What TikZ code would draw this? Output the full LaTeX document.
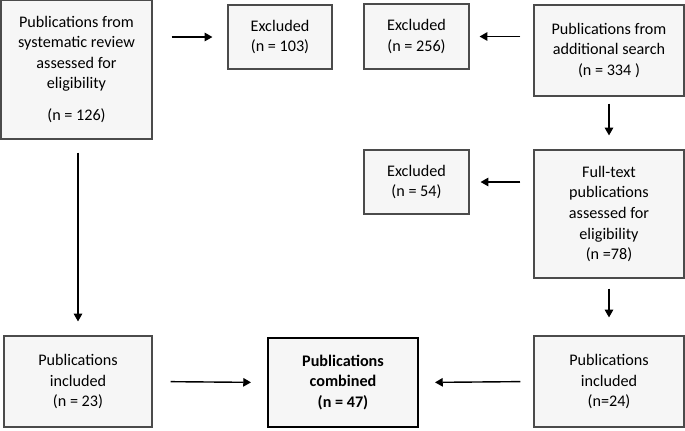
\documentclass[tikz,border=0pt]{standalone}
\usepackage{fontspec}
\setmainfont{Carlito}
\usetikzlibrary{arrows.meta}
\definecolor{boxfill}{RGB}{246,246,246}
\definecolor{boxline}{RGB}{75,75,75}

\begin{document}
\begin{tikzpicture}[x=0.025cm, y=-0.025cm,
  box/.style={draw=boxline, fill=boxfill, line width=0.8pt, align=center,
    inner sep=0pt, font=\fontsize{11.5}{14.6}\selectfont},
  flow/.style={-{Triangle[length=5.5pt,width=6pt]}, line width=1pt}]
  \useasboundingbox (0,0) rectangle (685,430);

  % Left branch (systematic review)
  \node[box, minimum width=3.775cm, minimum height=3.475cm] (sysrev) at (76.5, 69.5)
    {Publications from\\systematic review\\assessed for\\eligibility\\[8pt](n = 126)};
  \node[box, minimum width=2.6cm, minimum height=1.6cm] (excl1) at (280, 37)
    {Excluded\\(n = 103)};
  \node[box, minimum width=3.7cm, minimum height=2.275cm] (incl1) at (78, 381.5)
    {Publications\\included\\(n = 23)};

  % Right branch (additional search)
  \node[box, minimum width=2.625cm, minimum height=1.625cm] (excl2) at (416.5, 36.5)
    {Excluded\\(n = 256)};
  \node[box, minimum width=3.75cm, minimum height=2.275cm] (addsearch) at (609, 50.5)
    {Publications from\\additional search\\(n = 334 )};
  \node[box, minimum width=2.625cm, minimum height=1.6cm] (excl3) at (416.5, 182)
    {Excluded\\(n = 54)};
  \node[box, minimum width=3.75cm, minimum height=3.2cm] (fulltext) at (609, 214)
    {Full-text\\publications\\assessed for\\eligibility\\(n =78)};
  \node[box, minimum width=3.75cm, minimum height=2.275cm] (incl2) at (609, 381.5)
    {Publications\\included\\(n=24)};

  % Combined
  \node[box, draw=black, line width=1.4pt, minimum width=3.75cm, minimum height=2.225cm,
    font=\fontsize{11.5}{14.6}\selectfont\bfseries] (combined) at (343, 382.5)
    {Publications\\combined\\(n = 47)};

  % Arrows
  \draw[flow, shorten <=0.475cm, shorten >=0.375cm] (sysrev.east |- excl1.west) -- (excl1.west);
  \draw[flow, shorten <=0.325cm, shorten >=0.25cm] (addsearch.west |- excl2.east) -- (excl2.east);
  \draw[flow, shorten <=0.175cm, shorten >=0.35cm] (addsearch.south) -- (fulltext.north);
  \draw[flow, shorten <=0.325cm, shorten >=0.275cm] (fulltext.west |- excl3.east) -- (excl3.east);
  \draw[flow, shorten <=0.25cm, shorten >=0.45cm] (fulltext.south) -- (incl2.north);
  \draw[flow, shorten <=0.325cm, shorten >=0.35cm] (sysrev.south -| incl1.north) -- (incl1.north);
  \draw[flow, shorten <=0.45cm, shorten >=0.4cm] (incl1.east) -- (combined.west);
  \draw[flow, shorten <=0.325cm, shorten >=0.4cm] (incl2.west) -- (combined.east);
\end{tikzpicture}
\end{document}
